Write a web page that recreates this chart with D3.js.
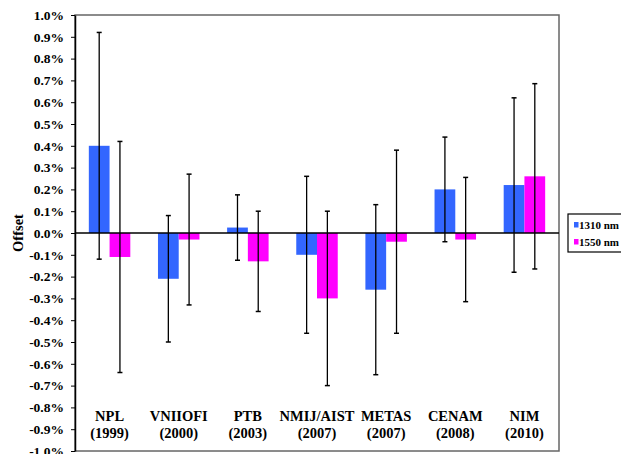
<!DOCTYPE html>
<html>
<head>
<meta charset="utf-8">
<script src="https://cdn.jsdelivr.net/npm/d3@7"></script>
<style>
  body { margin: 0; background: #fff; }
  svg { display: block; font-family: "Liberation Serif", "Times New Roman", serif; font-weight: bold; }
</style>
</head>
<body>
<div id="chart"></div>
<script>
// labs + year (two-line category labels)
const labs = ["NPL", "VNIIOFI", "PTB", "NMIJ/AIST", "METAS", "CENAM", "NIM"];
const years = ["(1999)", "(2000)", "(2003)", "(2007)", "(2007)", "(2008)", "(2010)"];
const seriesNames = ["1310 nm", "1550 nm"];

// offsets in %
const off1310 = [0.40, -0.21, 0.025, -0.10, -0.26, 0.20, 0.22];
const off1550 = [-0.11, -0.03, -0.13, -0.30, -0.04, -0.03, 0.26];
// symmetric uncertainty (error bar half length), %
const err1310 = [0.52, 0.29, 0.15, 0.36, 0.39, 0.24, 0.40];
const err1550 = [0.53, 0.30, 0.23, 0.40, 0.42, 0.285, 0.425];

const yTicks = d3.range(-10, 11).map(d => d / 10);

const width = 621, height = 454;
const margin = { top: 15, right: 62, bottom: 3, left: 75 };
const colors = ["#3366ff", "#ff00ff"];

const svg = d3.select("#chart").append("svg")
  .attr("width", width)
  .attr("height", height);

const x = d3.scaleBand()
  .domain(labs)
  .range([margin.left, width - margin.right])
  .paddingInner(0.4)
  .paddingOuter(0.2);

const xSub = d3.scaleBand()
  .domain(seriesNames)
  .range([0, x.bandwidth()]);

const y = d3.scaleLinear()
  .domain([-1, 1])
  .range([height - margin.bottom, margin.top]);

// frame
svg.append("rect")
  .attr("x", margin.left)
  .attr("y", margin.top)
  .attr("width", width - margin.right - margin.left)
  .attr("height", height - margin.bottom - margin.top)
  .attr("fill", "none")
  .attr("stroke", "#666")
  .attr("stroke-width", 1.5);

// y axis
const yAxis = svg.append("g")
  .attr("transform", `translate(${margin.left},0)`)
  .call(d3.axisLeft(y)
    .tickValues(yTicks)
    .tickSize(4)
    .tickSizeOuter(0)
    .tickFormat(d => d.toFixed(1) + "%"));
yAxis.select(".domain").attr("stroke", "#000").attr("stroke-width", 1.5);
yAxis.selectAll(".tick line").attr("stroke", "#000");
yAxis.selectAll(".tick text")
  .attr("x", -11)
  .attr("fill", "#000")
  .style("font-size", "13.5px")
  .style("font-family", "Liberation Serif, serif")
  .style("font-weight", "bold");

// y label
svg.append("text")
  .attr("transform", `translate(23,${y(0)}) rotate(-90)`)
  .attr("text-anchor", "middle")
  .style("font-size", "14.5px")
  .text("Offset");

const data = labs.map((l, i) => ({
  lab: l,
  vals: [
    { s: seriesNames[0], v: off1310[i], e: err1310[i], c: colors[0] },
    { s: seriesNames[1], v: off1550[i], e: err1550[i], c: colors[1] }
  ]
}));

const groups = svg.selectAll(".grp")
  .data(data)
  .enter().append("g")
  .attr("class", "grp")
  .attr("transform", d => `translate(${x(d.lab)},0)`);

groups.selectAll("rect")
  .data(d => d.vals)
  .enter().append("rect")
  .attr("x", d => xSub(d.s))
  .attr("width", xSub.bandwidth())
  .attr("y", d => y(Math.max(0, d.v)))
  .attr("height", d => Math.abs(y(d.v) - y(0)))
  .attr("fill", d => d.c);

// zero line
svg.append("line")
  .attr("x1", margin.left)
  .attr("x2", width - margin.right)
  .attr("y1", y(0))
  .attr("y2", y(0))
  .attr("stroke", "#000")
  .attr("stroke-width", 1.3);

// error bars
const eb = groups.selectAll(".eb")
  .data(d => d.vals)
  .enter().append("g")
  .attr("class", "eb")
  .attr("transform", d => `translate(${xSub(d.s) + xSub.bandwidth() / 2},0)`);
eb.append("line")
  .attr("y1", d => y(d.v + d.e))
  .attr("y2", d => y(d.v - d.e))
  .attr("stroke", "#000")
  .attr("stroke-width", 1.3);
eb.selectAll(".cap")
  .data(d => [d.v + d.e, d.v - d.e])
  .enter().append("line")
  .attr("x1", -2.5).attr("x2", 2.5)
  .attr("y1", d => y(d)).attr("y2", d => y(d))
  .attr("stroke", "#000")
  .attr("stroke-width", 1.5);

// category labels
labs.forEach((l, i) => {
  const cx = x(l) + x.bandwidth() / 2;
  const t = svg.append("text")
    .attr("x", cx)
    .attr("text-anchor", "middle")
    .style("font-size", "14.5px");
  t.append("tspan").attr("x", cx).attr("y", 421).text(l);
  t.append("tspan").attr("x", cx).attr("y", 438).text(years[i]);
});

// legend
const lg = svg.append("g").attr("transform", "translate(568,214)");
lg.append("rect")
  .attr("width", 60).attr("height", 38)
  .attr("fill", "#fff")
  .attr("stroke", "#000")
  .attr("stroke-width", 1.2);
seriesNames.forEach((s, i) => {
  lg.append("rect")
    .attr("x", 6).attr("y", 8 + i * 17)
    .attr("width", 4.5).attr("height", 5.5)
    .attr("fill", colors[i]);
  lg.append("text")
    .attr("x", 11).attr("y", 14.5 + i * 17)
    .style("font-size", "11px")
    .text(s);
});
</script>
</body>
</html>
